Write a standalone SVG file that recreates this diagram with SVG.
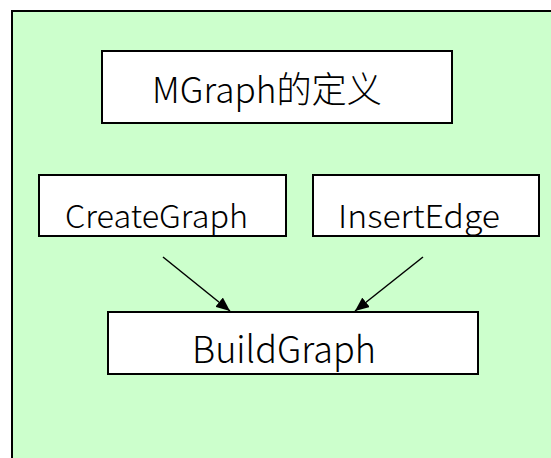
<svg xmlns="http://www.w3.org/2000/svg" width="551" height="458" viewBox="0 0 551 458">
<style>
.box{fill:#ffffff;stroke:#000000;stroke-width:2}
.lbl{font-family:"Noto Sans CJK SC","Noto Sans",sans-serif;font-weight:300;fill:#000000}
.conn{stroke:#000000;stroke-width:1.5;fill:none;marker-end:url(#arr)}
</style>
<defs>
<marker id="arr" viewBox="0 0 14 12" refX="14" refY="6" markerWidth="14" markerHeight="12" markerUnits="userSpaceOnUse" orient="auto">
<path d="M0,0 L14,6 L0,12 Z" fill="#000000"/>
</marker>
</defs>
<rect x="12" y="11" width="560" height="470" fill="#CCFFCC" stroke="#000000" stroke-width="2"/>
<g id="mgraph">
<rect class="box" x="102" y="51" width="350" height="72"/>
<text class="lbl" x="152" y="103" font-size="36" textLength="230" lengthAdjust="spacingAndGlyphs">MGraph的定义</text>
</g>
<g id="creategraph">
<rect class="box" x="39" y="175" width="247" height="61"/>
<text class="lbl" x="65" y="228" font-size="32" textLength="183" lengthAdjust="spacingAndGlyphs">CreateGraph</text>
</g>
<g id="insertedge">
<rect class="box" x="313" y="175" width="226" height="61"/>
<text class="lbl" x="338" y="228" font-size="32" textLength="162" lengthAdjust="spacingAndGlyphs">InsertEdge</text>
</g>
<g id="buildgraph">
<rect class="box" x="108" y="312" width="370" height="62"/>
<text class="lbl" x="192" y="363" font-size="37" textLength="184" lengthAdjust="spacingAndGlyphs">BuildGraph</text>
</g>
<g id="connectors">
<line class="conn" x1="163" y1="257" x2="230" y2="311"/>
<line class="conn" x1="423" y1="257" x2="355" y2="311"/>
</g>
</svg>
